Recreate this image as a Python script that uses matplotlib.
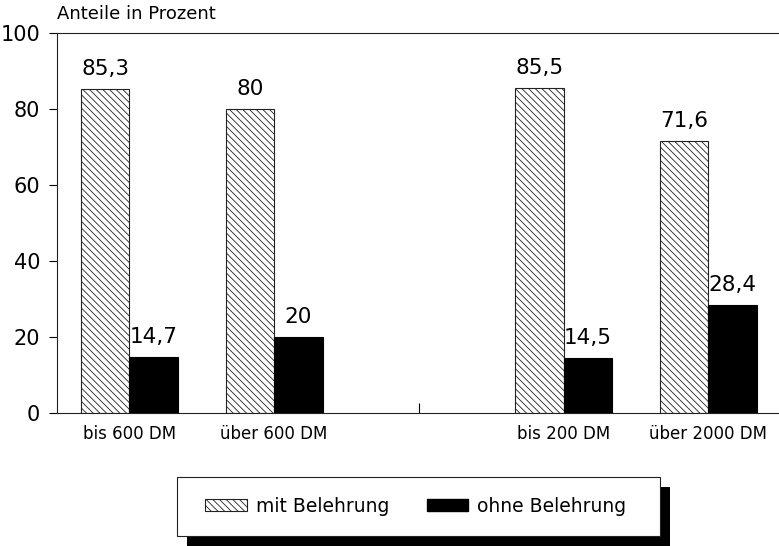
import matplotlib
matplotlib.use('Agg')
import matplotlib.pyplot as plt
from matplotlib.patches import Patch, Rectangle

categories = ['bis 600 DM', 'über 600 DM', 'bis 200 DM', 'über 2000 DM']
mit_belehrung = [85.3, 80, 85.5, 71.6]
ohne_belehrung = [14.7, 20, 14.5, 28.4]
yticks = [0, 20, 40, 60, 80, 100]

def fmt(v):
    s = ('%.1f' % v).rstrip('0').rstrip('.')
    return s.replace('.', ',')

plt.rcParams['font.family'] = 'DejaVu Sans'
plt.rcParams['hatch.linewidth'] = 0.6

fig = plt.figure(figsize=(7.79, 5.46), dpi=100)
ax = fig.add_axes([0.0732, 0.2436, 0.929, 0.696])

xpos = [0, 1, 3, 4]   # gap between the two pairs of groups
w = 0.335

for i, x in enumerate(xpos):
    ax.bar(x - w / 2, mit_belehrung[i], w, color='white', edgecolor='#222222',
           hatch='\\\\\\\\\\', linewidth=0.8)
    ax.bar(x + w / 2, ohne_belehrung[i], w, color='black', edgecolor='black',
           linewidth=0.8)
    ax.annotate(fmt(mit_belehrung[i]), (x - w / 2, mit_belehrung[i]),
                xytext=(0, 7), textcoords='offset points',
                ha='center', va='bottom', fontsize=15.5)
    ax.annotate(fmt(ohne_belehrung[i]), (x + w / 2, ohne_belehrung[i]),
                xytext=(0, 7), textcoords='offset points',
                ha='center', va='bottom', fontsize=15.5)

ax.set_xlim(-0.5, 4.5)
ax.set_ylim(0, 100)
ax.set_yticks(yticks)
ax.set_yticklabels([str(t) for t in yticks], fontsize=15)
ax.tick_params(axis='y', direction='out', length=6, width=0.8, pad=6)

ax.set_xticks(xpos)
ax.set_xticklabels(categories, fontsize=12)
ax.tick_params(axis='x', length=0, pad=9)
ax.set_xticks([2], minor=True)
ax.tick_params(axis='x', which='minor', direction='in', length=7, width=0.8)

for side in ['top', 'bottom', 'left']:
    ax.spines[side].set_linewidth(0.8)
    ax.spines[side].set_color('#222222')
ax.spines['right'].set_visible(False)

fig.text(0.0732, 0.975, 'Anteile in Prozent', fontsize=13, ha='left', va='center')

# legend box with a solid drop shadow
fig.patches.append(Rectangle((0.240, 0.0), 0.620, 0.108, transform=fig.transFigure,
                             facecolor='black', edgecolor='none', zorder=1))
fig.patches.append(Rectangle((0.2272, 0.0183), 0.620, 0.108, transform=fig.transFigure,
                             facecolor='white', edgecolor='#222222', linewidth=0.8, zorder=2))
handles = [Patch(facecolor='white', edgecolor='#222222', hatch='\\\\\\\\\\', linewidth=0.8),
           Patch(facecolor='black', edgecolor='black')]
leg = fig.legend(handles, ['mit Belehrung', 'ohne Belehrung'], loc='center',
                 bbox_to_anchor=(0.534, 0.0723), ncol=2, frameon=False, fontsize=13.5,
                 handlelength=2.2, handleheight=0.6, handletextpad=0.5, columnspacing=2.0)
leg.set_zorder(3)

fig.savefig('out.png', dpi=100)
